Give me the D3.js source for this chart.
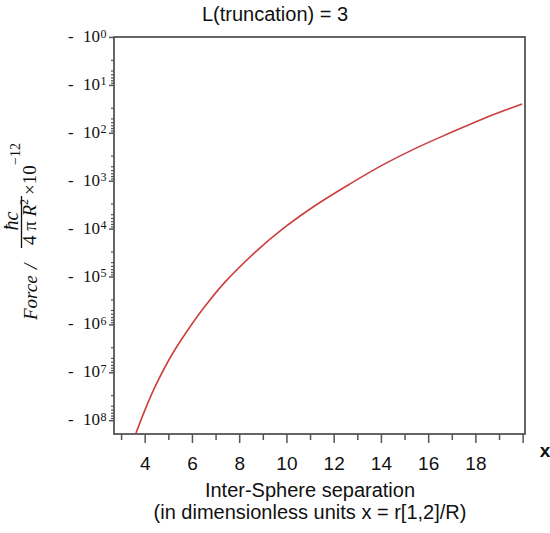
<!DOCTYPE html>
<html>
<head>
<meta charset="utf-8">
<script src="https://cdn.jsdelivr.net/npm/d3@7"></script>
<style>
  body { margin: 0; background: #fff; }
</style>
</head>
<body>
<div id="chart"></div>
<script>
// values
var titleText = "L(truncation) = 3";
var sepX = [3.63, 4.0, 4.45, 5.15, 6.0, 6.6, 7.34, 8.68, 9.88, 11.3, 12.71, 14.12, 15.53, 16.94, 18.36, 19.98];
var forceY = [-1.86e8, -6.3e7, -1.95e7, -4.3e6, -9.8e5, -3.9e5, -1.41e5, -3.1e4, -9.8e3, -3.1e3, -1.15e3, -457, -204, -100, -50, -25];
var xMajor = [4, 6, 8, 10, 12, 14, 16, 18, 20];
var xMinor = [3, 5, 7, 9, 11, 13, 15, 17, 19];
var xLabels = ["4", "6", "8", "10", "12", "14", "16", "18", ""];
var yDecades = [0, 1, 2, 3, 4, 5, 6, 7, 8];
var yMinorMult = [3, 5, 6, 7, 8, 9];

var W = 550, H = 533;
var mLeft = 114, mRight = 525, mTop = 37, mBottom = 434;

var svg = d3.select("#chart").append("svg")
    .attr("width", W)
    .attr("height", H)
    .style("font-family", "'Liberation Sans', Arial, sans-serif");

var x = d3.scaleLinear().domain([2.7, 20.1]).range([mLeft, mRight]);
var y = d3.scaleLog().domain([-1, -1.94e8]).range([mTop, mBottom]);

// title
svg.append("text")
    .attr("x", 275).attr("y", 21)
    .attr("text-anchor", "middle")
    .attr("font-size", 20)
    .attr("fill", "#111")
    .text(titleText);

// x axis ticks
var xAx = svg.append("g")
    .attr("transform", "translate(0," + mBottom + ")")
    .call(d3.axisBottom(x).tickValues(xMajor).tickSize(9).tickPadding(14)
        .tickFormat((d, i) => xLabels[i]));
xAx.select(".domain").remove();
xAx.selectAll("line").attr("stroke", "#555").attr("stroke-width", 1.5);
xAx.selectAll("text").attr("font-size", 19).attr("fill", "#111")
    .attr("font-family", "'Liberation Sans', Arial, sans-serif");

var xMin = svg.append("g")
    .attr("transform", "translate(0," + mBottom + ")")
    .call(d3.axisBottom(x).tickValues(xMinor).tickSize(6).tickFormat(""));
xMin.select(".domain").remove();
xMin.selectAll("line").attr("stroke", "#555").attr("stroke-width", 1.5);

// y axis ticks
var majorVals = yDecades.map(n => -Math.pow(10, n));
var minorVals = [];
yDecades.forEach(n => yMinorMult.forEach(k => {
    var v = -k * Math.pow(10, n);
    if (y(v) < mBottom - 1) minorVals.push(v);
}));

var yAx = svg.append("g")
    .attr("transform", "translate(" + mLeft + ",0)")
    .call(d3.axisLeft(y).tickValues(majorVals).tickSize(5).tickFormat(""));
yAx.select(".domain").remove();
yAx.selectAll("line").attr("stroke", "#555").attr("stroke-width", 1.5);

var yMin = svg.append("g")
    .attr("transform", "translate(" + mLeft + ",0)")
    .call(d3.axisLeft(y).tickValues(minorVals).tickSize(3).tickFormat(""));
yMin.select(".domain").remove();
yMin.selectAll("line").attr("stroke", "#555").attr("stroke-width", 1.2);

// y tick labels "- 10^n"
var yl = svg.append("g")
    .attr("font-family", "'Liberation Serif', 'Times New Roman', serif")
    .attr("fill", "#111");
yDecades.forEach(n => {
    var yy = y(-Math.pow(10, n));
    yl.append("text").attr("x", 68).attr("y", yy + 5).attr("font-size", 17).text("-");
    yl.append("text").attr("x", 100).attr("y", yy + 5).attr("text-anchor", "end")
        .attr("font-size", 17).text("10");
    yl.append("text").attr("x", 100.5).attr("y", yy + 0.5).attr("font-size", 12).text(n);
});

// frame
svg.append("rect")
    .attr("x", mLeft).attr("y", mTop)
    .attr("width", mRight - mLeft).attr("height", mBottom - mTop)
    .attr("fill", "none")
    .attr("stroke", "#555")
    .attr("stroke-width", 1.8);

// curve
svg.append("clipPath").attr("id", "clip")
    .append("rect").attr("x", mLeft).attr("y", mTop)
    .attr("width", mRight - mLeft).attr("height", mBottom - mTop);

var pts = sepX.map((d, i) => [d, forceY[i]]);
var line = d3.line()
    .x(d => x(d[0]))
    .y(d => y(d[1]))
    .curve(d3.curveCatmullRom.alpha(0.5));

svg.append("path")
    .datum(pts)
    .attr("clip-path", "url(#clip)")
    .attr("d", line)
    .attr("fill", "none")
    .attr("stroke", "#cc3f3f")
    .attr("stroke-width", 1.6);

// axis variable name
svg.append("text")
    .attr("x", 545).attr("y", 457)
    .attr("text-anchor", "middle")
    .attr("font-size", 19)
    .attr("font-weight", "bold")
    .attr("fill", "#111")
    .text("x");

// x axis title
svg.append("text")
    .attr("x", 310).attr("y", 497)
    .attr("text-anchor", "middle")
    .attr("font-size", 20)
    .attr("fill", "#111")
    .text("Inter-Sphere separation");
svg.append("text")
    .attr("x", 310).attr("y", 519)
    .attr("text-anchor", "middle")
    .attr("font-size", 20)
    .attr("fill", "#111")
    .text("(in dimensionless units x = r[1,2]/R)");

// y axis title, rotated
var yt = svg.append("g")
    .attr("transform", "translate(37,320) rotate(-90)")
    .attr("font-family", "'Liberation Serif', 'Times New Roman', serif")
    .attr("fill", "#111");
yt.append("text").attr("x", 0).attr("y", 0)
    .attr("font-size", 19).attr("font-style", "italic").text("Force");
yt.append("text").attr("x", 51).attr("y", 0)
    .attr("font-size", 19).attr("font-style", "italic").text("/");
yt.append("text").attr("x", 99).attr("y", -19)
    .attr("text-anchor", "middle")
    .attr("font-size", 20).attr("font-style", "italic").text("ħc");
yt.append("line")
    .attr("x1", 72).attr("x2", 124).attr("y1", -15.5).attr("y2", -15.5)
    .attr("stroke", "#111").attr("stroke-width", 1.3);
var den = yt.append("text").attr("x", 98).attr("y", -1)
    .attr("text-anchor", "middle").attr("font-size", 19);
den.append("tspan").text("4 π ");
den.append("tspan").attr("font-style", "italic").text("R");
den.append("tspan").attr("font-size", 12).attr("dy", -8).text("2");
yt.append("text").attr("x", 125).attr("y", -1)
    .attr("font-size", 19).text("×10");
yt.append("text").attr("x", 155).attr("y", -17)
    .attr("font-size", 14).text("−12");
</script>
</body>
</html>
